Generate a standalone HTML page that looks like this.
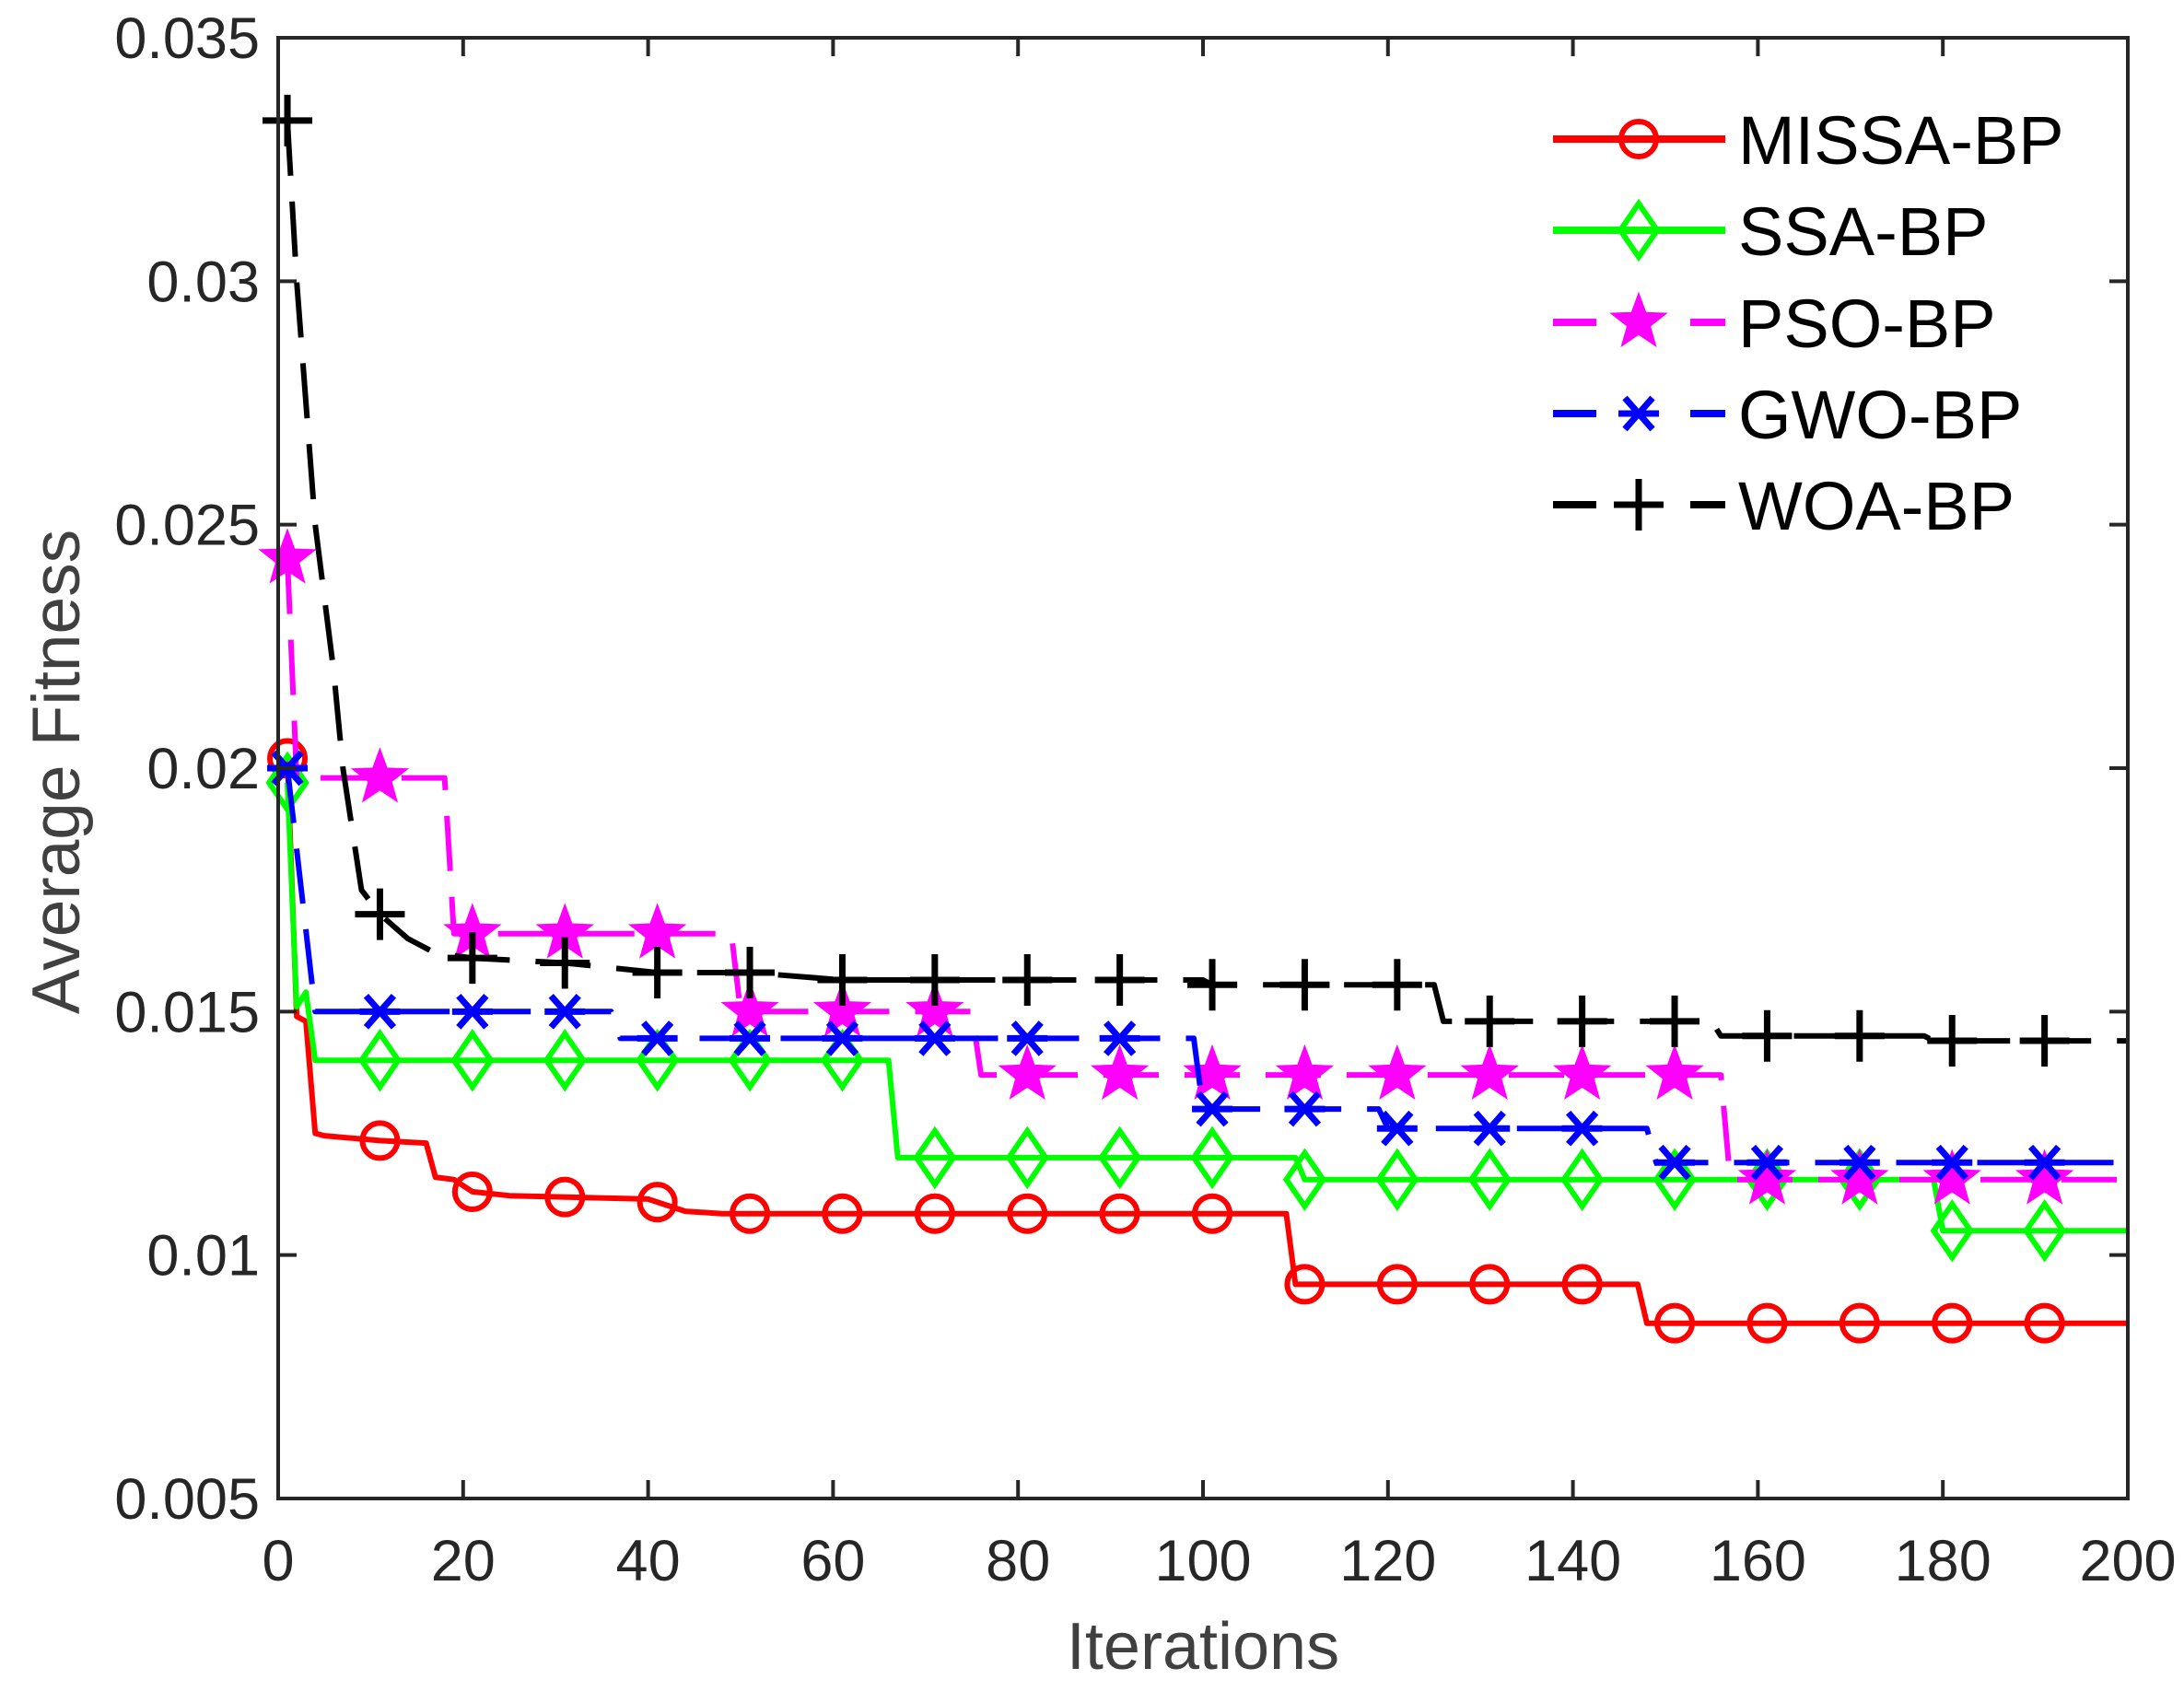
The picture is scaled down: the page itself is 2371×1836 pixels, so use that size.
<!DOCTYPE html>
<html><head><meta charset="utf-8"><style>
html,body{margin:0;padding:0;background:#fff;}
svg{display:block;font-family:"Liberation Sans",Arial,sans-serif;}
</style></head><body>
<svg id="chart" width="2371" height="1836" viewBox="0 0 2371 1836" xmlns="http://www.w3.org/2000/svg">
<rect width="2371" height="1836" fill="#fff"/>
<g id="series"></g>
<g id="axes"></g>
<g id="legend"></g>
<text x="1306" y="1812" font-size="72" fill="#404040" text-anchor="middle">Iterations</text>
<text transform="translate(86,838) rotate(-90)" font-size="73" fill="#404040" text-anchor="middle">Average Fitness</text>
</svg>
<script>
const xTicks=[0,20,40,60,80,100,120,140,160,180,200];
const yTicks=[0.005,0.01,0.015,0.02,0.025,0.03,0.035];
const yTickLabels=["0.005","0.01","0.015","0.02","0.025","0.03","0.035"];
const seriesNames=["MISSA-BP","SSA-BP","PSO-BP","GWO-BP","WOA-BP"];
const missaX=[1,2,3,4,5,11,16,17,19,21,25,40,44,48,109,110,147,148,200];
const missaY=[0.0202,0.0149,0.0148,0.0125,0.01245,0.01235,0.0123,0.0116,0.01155,0.0113,0.01122,0.01115,0.0109,0.01085,0.01085,0.0094,0.0094,0.0086,0.0086];
const ssaX=[1,2,3,4,66,67,110,111,179,180,200];
const ssaY=[0.0197,0.0151,0.0154,0.0140,0.0140,0.0120,0.0120,0.01155,0.01155,0.0105,0.0105];
const psoX=[1,2,18,19,49,50,75,76,156,157,200];
const psoY=[0.0243,0.0198,0.0198,0.0166,0.0166,0.0150,0.0150,0.0137,0.0137,0.01155,0.01155];
const gwoX=[1,4,36,37,99,100,119,120,148,149,200];
const gwoY=[0.0200,0.0150,0.0150,0.01445,0.01445,0.0130,0.0130,0.0126,0.0126,0.0119,0.0119];
const woaX=[1,2,4,6,7,9,11,14,17,21,31,41,51,61,100,101,125,126,155,156,178,179,200];
const woaY=[0.0333,0.0300,0.0250,0.0220,0.0200,0.0175,0.0170,0.0165,0.0162,0.0161,0.0160,0.0158,0.0158,0.01565,0.01565,0.01555,0.01555,0.0148,0.0148,0.0145,0.0145,0.0144,0.0144];
const markerIters=[1,11,21,31,41,51,61,71,81,91,101,111,121,131,141,151,161,171,181,191];

const L=302,R=2310,T=41,B=1627;
const X=v=>L+(v-0)/(200-0)*(R-L);
const Y=v=>B-(v-0.005)/(0.035-0.005)*(B-T);
const NS='http://www.w3.org/2000/svg';
function mk(tag,attrs,parent){const e=document.createElementNS(NS,tag);for(const k in attrs)e.setAttribute(k,attrs[k]);parent.appendChild(e);return e;}
function interp(xs,ys,x){for(let i=0;i<xs.length-1;i++){if(x>=xs[i]&&x<=xs[i+1]){const t=(x-xs[i])/(xs[i+1]-xs[i]);return ys[i]+t*(ys[i+1]-ys[i]);}}return ys[ys.length-1];}

const cfg=[
 {xs:missaX,ys:missaY,color:'#ff0000',dash:'',m:'circle'},
 {xs:ssaX,ys:ssaY,color:'#00ff00',dash:'',m:'diamond'},
 {xs:psoX,ys:psoY,color:'#ff00ff',dash:'60 28',m:'star'},
 {xs:gwoX,ys:gwoY,color:'#0000ff',dash:'60 28',m:'x'},
 {xs:woaX,ys:woaY,color:'#000000',dash:'60 28',m:'plus'}
];
function marker(type,cx,cy,color,g){
 let e;
 if(type==='circle'){e=mk('circle',{cx:cx,cy:cy,r:19,fill:'none',stroke:color,'stroke-width':6},g);}
 else if(type==='diamond'){e=mk('path',{d:`M${cx} ${cy-29}L${cx+20} ${cy}L${cx} ${cy+29}L${cx-20} ${cy}Z`,fill:'none',stroke:color,'stroke-width':6},g);}
 else if(type==='star'){let p='';for(let i=0;i<10;i++){const r=i%2?12:29;const a=-Math.PI/2+i*Math.PI/5;p+=(i?'L':'M')+(cx+r*Math.cos(a)).toFixed(1)+' '+(cy+r*Math.sin(a)).toFixed(1);}e=mk('path',{d:p+'Z',fill:color,stroke:color,'stroke-width':3},g);}
 else if(type==='x'){e=mk('path',{d:`M${cx-15} ${cy-17}L${cx+15} ${cy+17}M${cx+15} ${cy-17}L${cx-15} ${cy+17}M${cx-22} ${cy}L${cx+22} ${cy}`,stroke:color,'stroke-width':7,fill:'none'},g);}
 else {e=mk('path',{d:`M${cx-27} ${cy}L${cx+27} ${cy}M${cx} ${cy-28}L${cx} ${cy+28}`,stroke:color,'stroke-width':7,fill:'none'},g);}
 return e;
}
const sg=document.getElementById('series');
cfg.forEach((c,si)=>{
 const g=mk('g',{},sg);
 
 
 const d=c.xs.map((x,i)=>(i?'L':'M')+X(x).toFixed(1)+' '+Y(c.ys[i]).toFixed(1)).join('');
 const p=mk('path',{d:d,fill:'none',stroke:c.color,'stroke-width':6,'stroke-dasharray':c.dash||'none','stroke-linejoin':'round'},g);
 
 
 markerIters.forEach(it=>{
  const e=marker(c.m,X(it),Y(interp(c.xs,c.ys,it)),c.color,g);
  
  
 });
});
const ax=document.getElementById('axes');
const fr=mk('rect',{x:L,y:T,width:R-L,height:B-T,fill:'none',stroke:'#262626','stroke-width':4},ax);


xTicks.forEach(v=>{
 const x=X(v);
 mk('path',{d:`M${x} ${B}V${B-20}M${x} ${T}V${T+20}`,stroke:'#262626','stroke-width':4},ax);
 const t=mk('text',{x:x,y:1716,'font-size':63,fill:'#262626','text-anchor':'middle'},ax);
 t.textContent=v;
 
 
});
yTicks.forEach((v,i)=>{
 const y=Y(v);
 mk('path',{d:`M${L} ${y}H${L+20}M${R} ${y}H${R-20}`,stroke:'#262626','stroke-width':4},ax);
 const t=mk('text',{x:282,y:y+22,'font-size':63,fill:'#262626','text-anchor':'end'},ax);
 t.textContent=yTickLabels[i];
 
 
});
const lg=document.getElementById('legend');
const rows=[151,250,350,449,548];
cfg.forEach((c,i)=>{
 const g=mk('g',{},lg);
 
 
 const y=rows[i];
 if(c.dash){
  mk('path',{d:`M1686 ${y}H1733M1835 ${y}H1873`,stroke:c.color,'stroke-width':8},g);
 } else {
  mk('path',{d:`M1686 ${y}H1873`,stroke:c.color,'stroke-width':8},g);
 }
 marker(c.m,1779,y,c.color,g);
 const t=mk('text',{x:1887,y:y+27,'font-size':74,fill:'#000'},g);
 t.textContent=seriesNames[i];
});
</script>
</body></html>
